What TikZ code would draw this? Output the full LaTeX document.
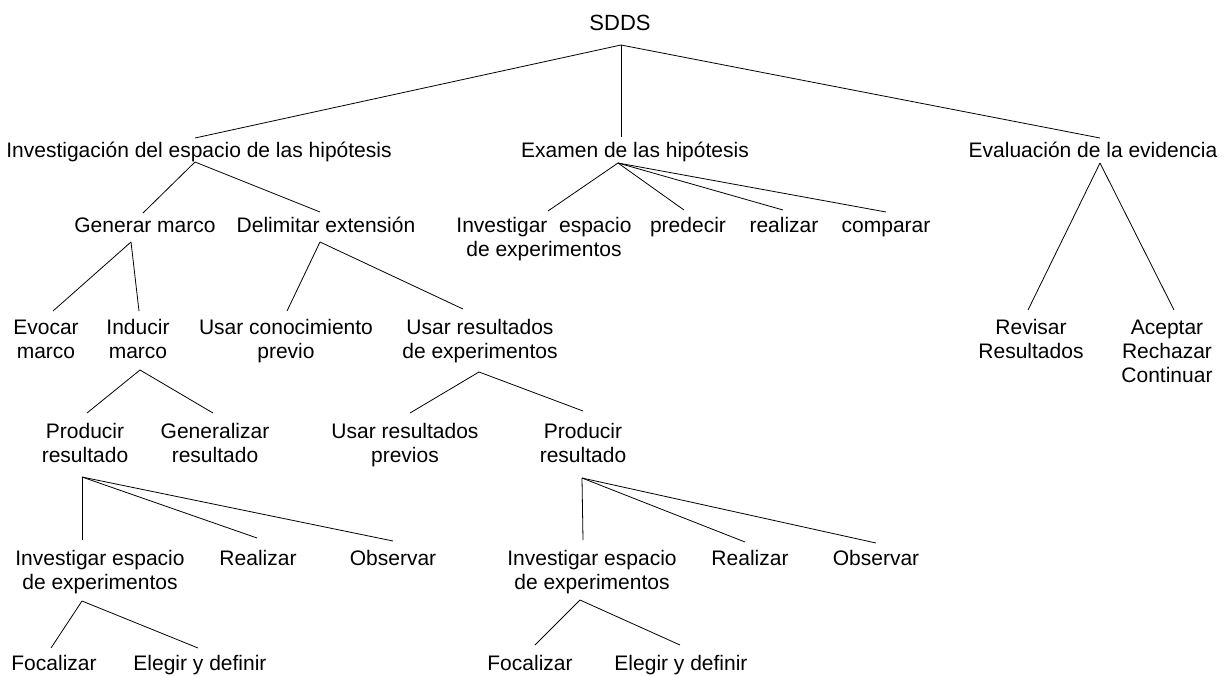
\documentclass[tikz,border=0pt]{standalone}
\usepackage{fontspec}
\setmainfont{Liberation Sans}
\newcommand\ls{\rule[-7pt]{0pt}{24pt}}
\begin{document}
\begin{tikzpicture}[x=1pt,y={(0pt,-1pt)},
  lbl/.style={inner sep=0pt,outer sep=0pt,align=center,anchor=north,font=\fontsize{21}{24}\selectfont},
  conn/.style={draw=black,line width=0.8pt}]
\fill[white] (0,0) rectangle (1224,675);
\useasboundingbox (0,0) rectangle (1224,675);

% nodes
\node[lbl,font=\fontsize{22}{24}\selectfont] (sdds) at (620,13) {\ls SDDS};
\node[lbl] (inv) at (199,140) {\ls Investigación del espacio de las hipótesis};
\node[lbl] (exa) at (635,140) {\ls Examen de las hipótesis};
\node[lbl] (eva) at (1093,140) {\ls Evaluación de la evidencia};

\node[lbl] (gen) at (145,215) {\ls Generar marco};
\node[lbl] (del) at (326,215) {\ls Delimitar extensión};
\node[lbl] (ie1) at (544,215) {\ls Investigar\ \ espacio\\\ls de experimentos};
\node[lbl] (pred) at (688,215) {\ls predecir};
\node[lbl] (real) at (784,215) {\ls realizar};
\node[lbl] (comp) at (886,215) {\ls comparar};

\node[lbl] (evo) at (46,317) {\ls Evocar\\\ls marco};
\node[lbl] (ind) at (138,317) {\ls Inducir\\\ls marco};
\node[lbl] (ucp) at (286,317) {\ls Usar conocimiento\\\ls previo};
\node[lbl] (ure) at (480,317) {\ls Usar resultados\\\ls de experimentos};
\node[lbl] (rev) at (1031,317) {\ls Revisar\\\ls Resultados};
\node[lbl] (acc) at (1167,317) {\ls Aceptar\\\ls Rechazar\\\ls Continuar};

\node[lbl] (pr1) at (85,421) {\ls Producir\\\ls resultado};
\node[lbl] (gr) at (215,421) {\ls Generalizar\\\ls resultado};
\node[lbl] (urp) at (405,421) {\ls Usar resultados\\\ls previos};
\node[lbl] (pr2) at (583,421) {\ls Producir\\\ls resultado};

\node[lbl] (ie2) at (100,548) {\ls Investigar espacio\\\ls de experimentos};
\node[lbl] (re1) at (258,548) {\ls Realizar};
\node[lbl] (ob1) at (393,548) {\ls Observar};
\node[lbl] (ie3) at (592,548) {\ls Investigar espacio\\\ls de experimentos};
\node[lbl] (re2) at (750,548) {\ls Realizar};
\node[lbl] (ob2) at (876,548) {\ls Observar};

\node[lbl] (fo1) at (54,653) {\ls Focalizar};
\node[lbl] (el1) at (200,653) {\ls Elegir y definir};
\node[lbl] (fo2) at (530,653) {\ls Focalizar};
\node[lbl] (el2) at (681,653) {\ls Elegir y definir};

% connectors
\draw[conn] ([shift={(1,8)}]sdds.south) -- ([shift={(-4,-2)}]inv.north);
\draw[conn] ([shift={(1,8)}]sdds.south) -- ([shift={(-14,-3)}]exa.north);
\draw[conn] ([shift={(1,8)}]sdds.south) -- ([shift={(7,-2)}]eva.north);

\draw[conn] ([shift={(-4,-2)}]inv.south) -- ([shift={(-2,-2)}]gen.north);
\draw[conn] ([shift={(-4,-2)}]inv.south) -- ([shift={(-6,-3)}]del.north);

\draw[conn] ([shift={(-17,-1)}]exa.south) -- ([shift={(4,-4)}]ie1.north);
\draw[conn] ([shift={(-17,-1)}]exa.south) -- ([shift={(-4,-5)}]pred.north);
\draw[conn] ([shift={(-17,-1)}]exa.south) -- ([shift={(-1,-5)}]real.north);
\draw[conn] ([shift={(-17,-1)}]exa.south) -- ([shift={(0,-3)}]comp.north);

\draw[conn] ([shift={(7,-1)}]eva.south) -- ([shift={(-3,-7)}]rev.north);
\draw[conn] ([shift={(7,-1)}]eva.south) -- ([shift={(7,-7)}]acc.north);

\draw[conn] ([shift={(-14,3)}]gen.south) -- ([shift={(7,-6)}]evo.north);
\draw[conn] ([shift={(-14,3)}]gen.south) -- ([shift={(1,-6)}]ind.north);

\draw[conn] ([shift={(-6,3)}]del.south) -- ([shift={(1,-6)}]ucp.north);
\draw[conn] ([shift={(-6,3)}]del.south) -- ([shift={(-17,-8)}]ure.north);

\draw[conn] ([shift={(2,5)}]ind.south) -- ([shift={(2,-8)}]pr1.north);
\draw[conn] ([shift={(2,5)}]ind.south) -- ([shift={(-2,-8)}]gr.north);

\draw[conn] ([shift={(-1,7)}]ure.south) -- ([shift={(5,-8)}]urp.north);
\draw[conn] ([shift={(-1,7)}]ure.south) -- ([shift={(0,-10)}]pr2.north);

\draw[conn] ([shift={(-3,8)}]pr1.south) -- ([shift={(-18,-8)}]ie2.north);
\draw[conn] ([shift={(-3,8)}]pr1.south) -- ([shift={(-1,-10)}]re1.north);
\draw[conn] ([shift={(-3,8)}]pr1.south) -- ([shift={(0,-7)}]ob1.north);

\draw[conn] ([shift={(-1,9)}]pr2.south) -- ([shift={(-9,-8)}]ie3.north);
\draw[conn] ([shift={(-1,9)}]pr2.south) -- ([shift={(-5,-6)}]re2.north);
\draw[conn] ([shift={(-1,9)}]pr2.south) -- ([shift={(0,-5)}]ob2.north);

\draw[conn] ([shift={(-18,5)}]ie2.south) -- ([shift={(-3,-5)}]fo1.north);
\draw[conn] ([shift={(-18,5)}]ie2.south) -- ([shift={(-2,-5)}]el1.north);

\draw[conn] ([shift={(-12,4)}]ie3.south) -- ([shift={(5,-8)}]fo2.north);
\draw[conn] ([shift={(-12,4)}]ie3.south) -- ([shift={(-1,-8)}]el2.north);
\end{tikzpicture}
\end{document}
